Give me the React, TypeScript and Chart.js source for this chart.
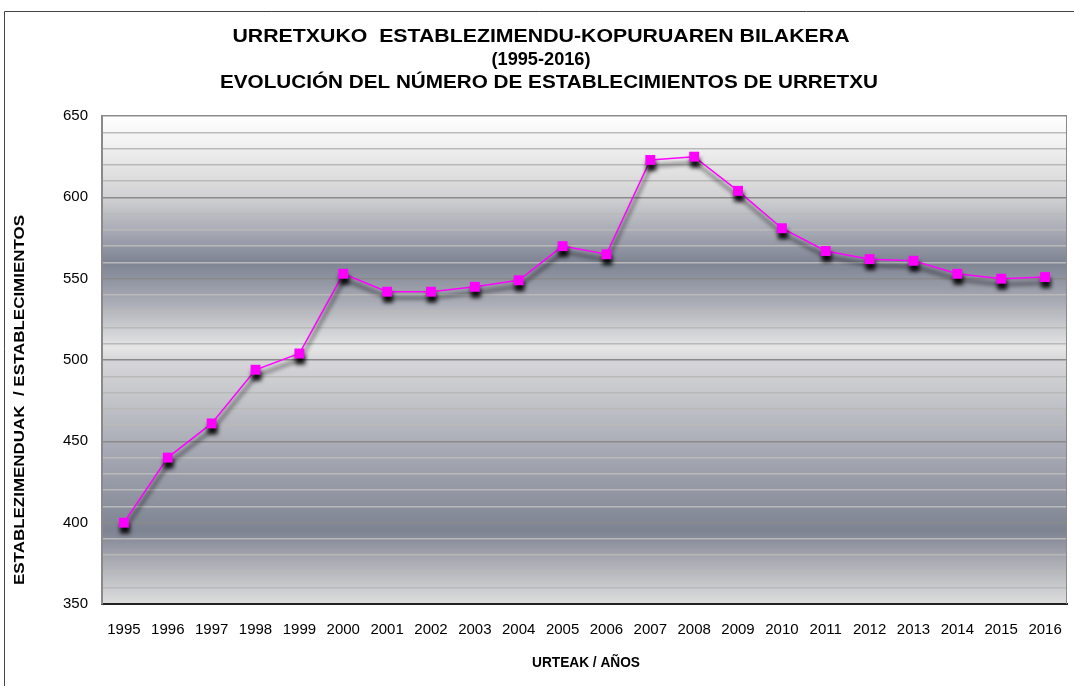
import React, { useEffect, useRef } from "react";
import { Chart, registerables } from "chart.js";

Chart.register(...registerables);

const years = ["1995","1996","1997","1998","1999","2000","2001","2002","2003","2004","2005","2006","2007","2008","2009","2010","2011","2012","2013","2014","2015","2016"];
const establishments = [400, 440, 461, 494, 504, 553, 542, 542, 545, 549, 570, 565, 623, 625, 604, 581, 567, 562, 561, 553, 550, 551];
const titleLines = [
  "URRETXUKO  ESTABLEZIMENDU-KOPURUAREN BILAKERA",
  "(1995-2016)",
  "EVOLUCIÓN DEL NÚMERO DE ESTABLECIMIENTOS DE URRETXU",
];
const xTitle = "URTEAK / AÑOS";
const yTitle = "ESTABLEZIMENDUAK  / ESTABLECIMIENTOS";

const FONT = '"Liberation Sans", Arial, sans-serif';

function drawStretched(ctx: CanvasRenderingContext2D, text: string, cx: number, cy: number, font: string, targetW: number, rot = 0) {
  ctx.save();
  ctx.font = font;
  const w = ctx.measureText(text).width;
  const sx = targetW / w;
  ctx.translate(cx, cy);
  if (rot) ctx.rotate(rot);
  ctx.scale(sx, 1);
  ctx.textAlign = "center";
  ctx.textBaseline = "middle";
  ctx.fillStyle = "#000";
  ctx.fillText(text, 0, 0);
  ctx.restore();
}

const bgPlugin = {
  id: "bgPlugin",
  beforeDraw(chart: any) {
    const { ctx, chartArea: a } = chart;
    ctx.save();
    const g = ctx.createLinearGradient(0, a.top, 0, a.bottom);
    const stops: [number, string][] = [
      [0.0, "#ffffff"], [0.07, "#eeeeee"], [0.165, "#d2d2d4"], [0.235, "#a8abb5"],
      [0.30, "#7e8393"], [0.38, "#a8abb4"], [0.44, "#cfd0d3"], [0.475, "#e6e6e6"],
      [0.50, "#d6d6d9"], [0.58, "#c4c5ca"], [0.68, "#a8abb5"], [0.785, "#8f93a0"],
      [0.85, "#7e8392"], [0.91, "#a8aab2"], [1.0, "#dedede"],
    ];
    stops.forEach(([o, c]) => g.addColorStop(o, c));
    ctx.fillStyle = g;
    ctx.fillRect(a.left, a.top, a.right - a.left, a.bottom - a.top);
    ctx.strokeStyle = "#444";
    ctx.lineWidth = 1;
    ctx.beginPath();
    ctx.moveTo(4.5, 686);
    ctx.lineTo(4.5, 11.5);
    ctx.lineTo(1074, 11.5);
    ctx.stroke();
    ctx.restore();
  },
  beforeDatasetsDraw(chart: any) {
    const ctx = chart.ctx;
    ctx.save();
    ctx.shadowColor = "rgba(0,0,0,0.9)";
    ctx.shadowBlur = 4;
    ctx.shadowOffsetX = 1;
    ctx.shadowOffsetY = 6;
  },
  afterDatasetsDraw(chart: any) {
    chart.ctx.restore();
  },
  afterDraw(chart: any) {
    const { ctx, chartArea: a } = chart;
    ctx.save();
    ctx.strokeStyle = "#8a8a8a";
    ctx.lineWidth = 1;
    ctx.beginPath();
    ctx.moveTo(a.right - 0.5, a.top);
    ctx.lineTo(a.right - 0.5, a.bottom);
    ctx.stroke();
    ctx.restore();
    const tf = `bold 18px ${FONT}`;
    drawStretched(ctx, titleLines[0], 541, 37, tf, 617);
    drawStretched(ctx, titleLines[1], 541, 60, tf, 99);
    drawStretched(ctx, titleLines[2], 549, 83, tf, 658);
    drawStretched(ctx, xTitle, 586, 663, `bold 15px ${FONT}`, 108);
    drawStretched(ctx, yTitle, 20, 400, `bold 15px ${FONT}`, 370, -Math.PI / 2);
  },
};

export default function App() {
  const ref = useRef<HTMLCanvasElement>(null);
  useEffect(() => {
    if (!ref.current) return;
    const chart = new Chart(ref.current, {
      type: "line",
      data: {
        labels: years,
        datasets: [
          {
            data: establishments,
            borderColor: "#ff00ff",
            borderWidth: 1.5,
            backgroundColor: "#ff00ff",
            pointStyle: "rect",
            pointRadius: 7,
            pointBorderWidth: 0,
            pointBackgroundColor: "#ff00ff",
            tension: 0,
          },
        ],
      },
      plugins: [bgPlugin],
      options: {
        animation: false,
        responsive: false,
        devicePixelRatio: 1,
        layout: { padding: { top: 116, right: 3, left: 0, bottom: 0 } },
        plugins: { legend: { display: false }, tooltip: { enabled: false }, title: { display: false } },
        scales: {
          x: {
            offset: true,
            grid: { display: false, drawTicks: false },
            border: { color: "#222", width: 2 },
            ticks: { color: "#000", font: { family: FONT, size: 15 }, padding: 17, autoSkip: false, maxRotation: 0 },
            afterFit: (s: any) => { s.height = 82; s.paddingLeft = 0; s.paddingRight = 0; },
          },
          y: {
            min: 350,
            max: 650,
            grid: {
              drawTicks: false,
              color: (c: any) => (c.tick && c.tick.value % 50 === 0 ? "#8a8a8a" : "#b9b9b9"),
              lineWidth: 1.5,
            },
            border: { color: "#8a8a8a", width: 2 },
            ticks: {
              stepSize: 10,
              autoSkip: false,
              color: "#000",
              font: { family: FONT, size: 15 },
              padding: 14,
              callback: (v: any) => (Number(v) % 50 === 0 ? String(v) : ""),
            },
            afterFit: (s: any) => { s.width = 102; s.paddingTop = 0; s.paddingBottom = 0; },
          },
        },
      },
    });
    return () => chart.destroy();
  }, []);
  return (
    <div style={{ position: "fixed", left: 0, top: 0, width: 1074, height: 686, background: "#fff", overflow: "hidden" }}>
      <canvas ref={ref} width={1074} height={686} style={{ width: 1074, height: 686, display: "block" }} />
    </div>
  );
}
